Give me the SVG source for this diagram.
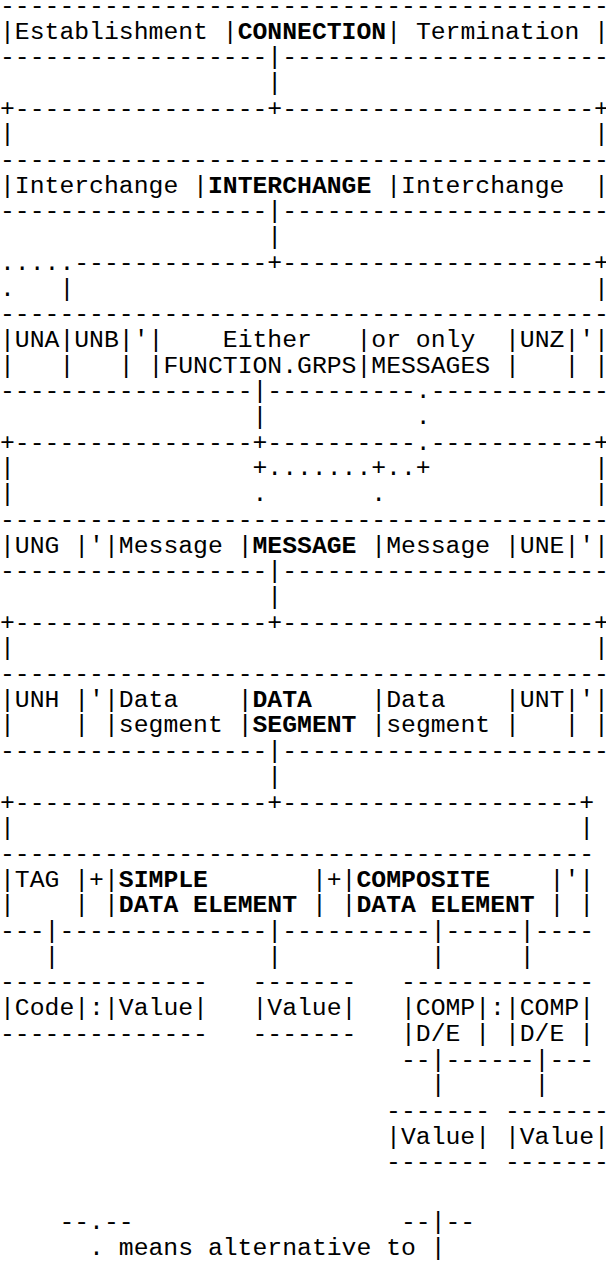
<svg xmlns="http://www.w3.org/2000/svg" width="606" height="1261" viewBox="0 0 606 1261" xml:space="preserve">
<style>
text{font-family:"Liberation Mono","Courier New",monospace;font-size:24.75px;fill:#000;white-space:pre}
.b{font-weight:bold}
</style>
<rect width="606" height="1261" fill="#fff"/>
<g id="connection">
<text x="0" y="12.8">-----------------------------------------</text>
<text x="0" y="38.5">|Establishment |<tspan class="b">CONNECTION</tspan>| Termination |</text>
<text x="0" y="64.2">------------------|----------------------</text>
</g>
<g id="interchange-box">
<text x="0" y="167">-----------------------------------------</text>
<text x="0" y="192.7">|Interchange |<tspan class="b">INTERCHANGE</tspan> |Interchange  |</text>
<text x="0" y="218.4">------------------|----------------------</text>
</g>
<g id="interchange-content">
<text x="0" y="321.2">-----------------------------------------</text>
<text x="0" y="346.9">|UNA|UNB|'|    Either   |or only  |UNZ|'|</text>
<text x="0" y="372.6">|   |   | |FUNCTION.GRPS|MESSAGES |   | |</text>
<text x="0" y="398.3">-----------------|----------.------------</text>
</g>
<g id="functional-group">
<text x="0" y="526.8">-----------------------------------------</text>
<text x="0" y="552.5">|UNG |'|Message |<tspan class="b">MESSAGE</tspan> |Message |UNE|'|</text>
<text x="0" y="578.2">------------------|----------------------</text>
</g>
<g id="message">
<text x="0" y="681">-----------------------------------------</text>
<text x="0" y="706.7">|UNH |'|Data    |<tspan class="b">DATA</tspan>    |Data    |UNT|'|</text>
<text x="0" y="732.4">|    | |segment |<tspan class="b">SEGMENT</tspan> |segment |   | |</text>
<text x="0" y="758.1">------------------|----------------------</text>
</g>
<g id="data-segment">
<text x="0" y="860.9">----------------------------------------</text>
<text x="0" y="886.6">|TAG |+|<tspan class="b">SIMPLE</tspan>       |+|<tspan class="b">COMPOSITE</tspan>    |'|</text>
<text x="0" y="912.3">|    | |<tspan class="b">DATA ELEMENT</tspan> | |<tspan class="b">DATA ELEMENT</tspan> | |</text>
<text x="0" y="938">---|--------------|----------|-----|----</text>
</g>
<g id="code-value">
<text x="0" y="989.4">--------------</text>
<text x="0" y="1015.1">|Code|:|Value|</text>
<text x="0" y="1040.8">--------------</text>
</g>
<g id="simple-value">
<text x="252.45" y="989.4">-------</text>
<text x="252.45" y="1015.1">|Value|</text>
<text x="252.45" y="1040.8">-------</text>
</g>
<g id="composite">
<text x="400.95" y="989.4">-------------</text>
<text x="400.95" y="1015.1">|COMP|:|COMP|</text>
<text x="400.95" y="1040.8">|D/E | |D/E |</text>
<text x="400.95" y="1066.5">--|------|---</text>
</g>
<g id="comp-value-1">
<text x="386.1" y="1117.9">-------</text>
<text x="386.1" y="1143.6">|Value|</text>
<text x="386.1" y="1169.3">-------</text>
</g>
<g id="comp-value-2">
<text x="504.9" y="1117.9">-------</text>
<text x="504.9" y="1143.6">|Value|</text>
<text x="504.9" y="1169.3">-------</text>
</g>
<g id="connectors">
<text x="267.3" y="89.9">|</text>
<text x="0" y="115.6">+-----------------+---------------------+</text>
<text x="0" y="141.3">|</text><text x="594" y="141.3">|</text>
<text x="267.3" y="244.1">|</text>
<text x="0" y="269.8">.....-------------+---------------------+</text>
<text x="0" y="295.5">.</text><text x="59.4" y="295.5">|</text><text x="594" y="295.5">|</text>
<text x="252.45" y="424">|</text><text x="415.8" y="424">.</text>
<text x="0" y="449.7">+----------------+----------.-----------+</text>
<text x="0" y="475.4">|</text><text x="252.45" y="475.4">+.......+..+</text><text x="594" y="475.4">|</text>
<text x="0" y="501.1">|</text><text x="252.45" y="501.1">.</text><text x="371.25" y="501.1">.</text><text x="594" y="501.1">|</text>
<text x="267.3" y="603.9">|</text>
<text x="0" y="629.6">+-----------------+---------------------+</text>
<text x="0" y="655.3">|</text><text x="594" y="655.3">|</text>
<text x="267.3" y="783.8">|</text>
<text x="0" y="809.5">+-----------------+--------------------+</text>
<text x="0" y="835.2">|</text><text x="579.15" y="835.2">|</text>
<text x="44.55" y="963.7">|</text><text x="267.3" y="963.7">|</text><text x="430.65" y="963.7">|</text><text x="519.75" y="963.7">|</text>
<text x="430.65" y="1092.2">|</text><text x="534.6" y="1092.2">|</text>
</g>
<g id="legend">
<text x="59.4" y="1229">--.--</text>
<text x="400.95" y="1229">--|--</text>
<text x="89.1" y="1254.5">. means alternative to |</text>
</g>
</svg>
